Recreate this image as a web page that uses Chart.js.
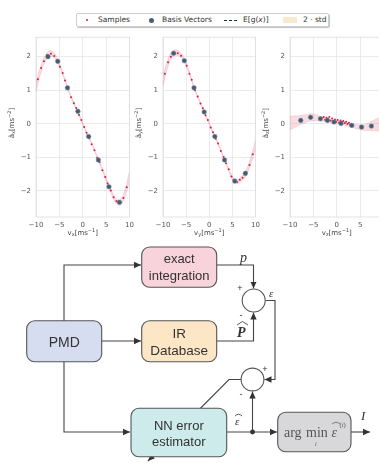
<!DOCTYPE html>
<html>
<head>
<meta charset="utf-8">
<script src="https://cdn.jsdelivr.net/npm/chart.js@4.4.0/dist/chart.umd.min.js"></script>
<style>
  html, body { margin: 0; padding: 0; background: #fff; }
  body { width: 379px; height: 463px; overflow: hidden; position: relative; font-family: "DejaVu Sans", sans-serif; }
  canvas.sub { position: absolute; top: 28px; }
  #legend { position: absolute; left: 76px; top: 13px; width: 251px; height: 12px; border: 1px solid #cfcfcf; border-radius: 2px;
            box-shadow: 1px 1px 1px rgba(0,0,0,0.25); background: #fff; font-size: 7.5px; color: #333; }
  #legend span { position: absolute; top: 1px; line-height: 10px; white-space: nowrap; }
  #legend i.m { position: absolute; display: block; }
  #diagram { position: absolute; left: 0; top: 0; }
</style>
</head>
<body>
<div id="legend">
  <i class="m" style="left:9px;top:5px;width:2px;height:2px;border-radius:1px;background:#d81b3c"></i>
  <span style="left:21px">Samples</span>
  <i class="m" style="left:72px;top:4px;width:5px;height:5px;border-radius:3px;background:#456173"></i>
  <span style="left:85px">Basis Vectors</span>
  <i class="m" style="left:147px;top:6px;width:13px;height:0;border-top:1.4px dashed #1c2b4a"></i>
  <span style="left:166px">E[g(<em>x</em>)]</span>
  <i class="m" style="left:206px;top:3px;width:14px;height:6px;background:#f7ebcf"></i>
  <span style="left:226px">2 · std</span>
</div>

<canvas class="sub" id="cx" width="138" height="212" style="left:0px"></canvas>
<canvas class="sub" id="cy" width="137" height="212" style="left:127px"></canvas>
<canvas class="sub" id="cz" width="138" height="212" style="left:254px"></canvas>

<svg id="diagram" width="379" height="463" xmlns="http://www.w3.org/2000/svg">
  <defs>
    <marker id="ah" markerUnits="userSpaceOnUse" markerWidth="8" markerHeight="8" refX="7" refY="4" orient="auto">
      <path d="M0,0.8 L7,4 L0,7.2 Z" fill="#333"/>
    </marker>
  </defs>
  <g stroke="#444" stroke-width="1.1" fill="none">
    <path d="M64 321 V265 H141" marker-end="url(#ah)"/>
    <path d="M102 341 H141" marker-end="url(#ah)"/>
    <path d="M64 362 V432 H130" marker-end="url(#ah)"/>
    <path d="M217 265 H253.5 V288.5" marker-end="url(#ah)"/>
    <path d="M217 341 H253.5 V312.5" marker-end="url(#ah)"/>
    <path d="M265.5 300.5 H275 V379.5 H264.5" marker-end="url(#ah)"/>
    <path d="M241 379.5 H229 L148 461" marker-end="url(#ah)"/>
    <path d="M227 432 H277" marker-end="url(#ah)"/>
    <path d="M252.5 432 V391.5" marker-end="url(#ah)"/>
    <path d="M351 432 H370" marker-end="url(#ah)"/>
  </g>
  <g stroke="#555" stroke-width="1.1">
    <rect x="141.7" y="247" width="75" height="40.3" rx="8" fill="#f9d3dc"/>
    <rect x="141.7" y="320.7" width="75" height="41" rx="8" fill="#fde6c6"/>
    <rect x="26.7" y="320.7" width="75" height="41" rx="8" fill="#d6ddf1"/>
    <rect x="131" y="408.3" width="95.7" height="48.4" rx="8" fill="#ccebea"/>
    <rect x="277.7" y="412.3" width="73.3" height="39.4" rx="8" fill="#d8d8db"/>
    <circle cx="253.7" cy="300.5" r="11.5" fill="#fff"/>
    <circle cx="252.5" cy="379.5" r="11.4" fill="#fff"/>
  </g>
  <circle cx="252.5" cy="432" r="2.4" fill="#333"/>
  <g font-family="Liberation Sans, Arial, sans-serif" fill="#333" text-anchor="middle" dominant-baseline="central">
    <text x="179.2" y="258.5" font-size="13">exact</text>
    <text x="179.2" y="275.5" font-size="13">integration</text>
    <text x="179.2" y="333" font-size="13.5">IR</text>
    <text x="179.2" y="350" font-size="13.5">Database</text>
    <text x="64.2" y="341.5" font-size="14">PMD</text>
    <text x="178.8" y="425" font-size="13">NN error</text>
    <text x="178.8" y="441" font-size="13">estimator</text>
    <text x="240" y="288" font-size="9">+</text>
    <text x="241" y="315" font-size="9">-</text>
    <text x="265" y="369" font-size="9">+</text>
    <text x="241" y="394" font-size="9">-</text>
  </g>
  <g font-family="Liberation Serif, DejaVu Serif, serif" fill="#333">
    <text x="240" y="262" font-size="14" font-style="italic">p</text>
    <text x="237" y="337" font-size="14" font-style="italic" font-weight="bold">P</text>
    <path d="M237 325 L242.5 321.5 L248 325" stroke="#333" stroke-width="0.8" fill="none"/>
    <text x="269" y="297" font-size="11" font-style="italic">ε</text>
    <text x="235" y="425" font-size="11" font-style="italic">ε</text>
    <path d="M235 416 Q238.5 412.5 242 416" stroke="#333" stroke-width="0.8" fill="none"/>
    <text x="361" y="420" font-size="13" font-style="italic">I</text>
    <g fill="#555">
      <text x="284" y="437" font-size="14">arg</text>
      <text x="306" y="437" font-size="14">min</text>
      <text x="315" y="446" font-size="6" font-style="italic">i</text>
      <text x="331.5" y="437" font-size="14" font-style="italic">ε</text>
      <path d="M332 424 Q336 420.5 340 424" stroke="#555" stroke-width="0.7" fill="none"/>
      <text x="339.5" y="427" font-size="6.5">(<tspan font-style="italic">i</tspan>)</text>
    </g>
  </g>
</svg>

<script>
// shared x grid for the mean curves and bands
const xs = [-10, -9, -8, -7, -6, -5, -4, -3, -2, -1, 0, 1, 2, 3, 4, 5, 6, 7, 8, 9, 10];
const xTicks = [-10, -5, 0, 5, 10];
const yTicks = [-2, -1, 0, 1, 2];

// E[g(x)]
const meanX = [1.1, 1.6, 1.95, 2.1, 2.02, 1.75, 1.38, 0.98, 0.64, 0.33, 0.0, -0.32, -0.62, -0.96, -1.3, -1.66, -2.0, -2.28, -2.35, -2.08, -1.55];
const meanY = [1.28, 1.78, 2.08, 2.12, 2.02, 1.78, 1.38, 0.97, 0.64, 0.32, 0.0, -0.32, -0.63, -0.97, -1.3, -1.62, -1.73, -1.63, -1.45, -1.1, -0.6];
const meanZ = [0.02, 0.06, 0.1, 0.14, 0.18, 0.19, 0.17, 0.13, 0.1, 0.06, 0.03, 0.01, -0.02, -0.05, -0.08, -0.1, -0.11, -0.08, -0.05, -0.02, 0.02];

// half width of the 2 std band
const bandX = [0.15, 0.11, 0.09, 0.08, 0.07, 0.05, 0.04, 0.03, 0.03, 0.03, 0.03, 0.03, 0.03, 0.03, 0.04, 0.05, 0.06, 0.07, 0.08, 0.1, 0.14];
const bandY = [0.15, 0.11, 0.09, 0.08, 0.07, 0.05, 0.04, 0.03, 0.03, 0.03, 0.03, 0.03, 0.03, 0.03, 0.04, 0.05, 0.06, 0.07, 0.08, 0.1, 0.14];
const bandZ = [0.2, 0.17, 0.14, 0.12, 0.11, 0.1, 0.08, 0.06, 0.04, 0.03, 0.03, 0.03, 0.04, 0.05, 0.06, 0.07, 0.09, 0.12, 0.16, 0.2, 0.24];

// basis vectors [x, y]
const basisX = [[-7.44, 2.0], [-5.35, 1.86], [-3.27, 1.07], [-1.04, 0.37], [1.25, -0.38], [3.33, -1.08], [5.6, -1.88], [7.85, -2.34]];
const basisY = [[-7.7, 2.1], [-5.4, 1.88], [-3.3, 1.07], [-1.1, 0.35], [1.2, -0.38], [3.3, -1.08], [5.5, -1.71], [7.8, -1.48]];
const basisZ = [[-7.7, 0.1], [-5.6, 0.19], [-3.5, 0.15], [-2.0, 0.1], [-0.6, 0.05], [0.9, 0.01], [3.2, -0.05], [5.3, -0.1], [7.4, -0.07]];

// samples [x, y]
const samplesX = [[-9.6, 1.33], [-8.9, 1.66], [-8.3, 1.86], [-7.6, 2.05], [-6.8, 2.09], [-6.1, 2.02], [-5.5, 1.9], [-4.9, 1.7], [-4.3, 1.51], [-3.8, 1.29],
  [-3.1, 1.04], [-2.5, 0.79], [-1.9, 0.61], [-1.4, 0.47], [-0.8, 0.26], [-0.3, 0.11], [0.3, -0.1], [0.8, -0.27], [1.4, -0.43], [1.9, -0.61],
  [2.5, -0.79], [3.1, -1.01], [3.6, -1.15], [4.2, -1.39], [4.8, -1.59], [5.3, -1.78], [6.0, -1.99], [6.6, -2.19], [7.2, -2.3], [8.0, -2.33], [8.7, -2.21], [9.4, -1.89]];
const samplesY = [[-9.6, 1.49], [-8.9, 1.83], [-8.3, 2.0], [-7.6, 2.11], [-6.8, 2.1], [-6.1, 2.03], [-5.5, 1.87], [-4.9, 1.73], [-4.3, 1.49], [-3.8, 1.31],
  [-3.1, 1.0], [-2.5, 0.81], [-1.9, 0.6], [-1.4, 0.46], [-0.8, 0.25], [-0.3, 0.11], [0.3, -0.11], [0.8, -0.25], [1.4, -0.45], [1.9, -0.59],
  [2.5, -0.81], [3.1, -0.99], [3.6, -1.18], [4.2, -1.36], [4.8, -1.57], [5.3, -1.67], [6.0, -1.74], [6.6, -1.67], [7.2, -1.61], [8.0, -1.44], [8.7, -1.23], [9.4, -0.91]];
const samplesZ = [[-3.2, 0.17], [-2.8, 0.2], [-2.5, 0.12], [-2.2, 0.18], [-1.9, 0.14], [-1.6, 0.2], [-1.3, 0.1], [-1.0, 0.16], [-0.7, 0.08], [-0.4, 0.13],
  [-0.1, 0.06], [0.2, 0.11], [0.5, 0.04], [0.8, 0.1], [1.1, 0.05], [1.4, 0.08], [1.7, 0.02], [2.0, 0.06], [2.3, -0.01], [2.6, 0.03], [2.9, -0.03]];

const Y_MIN = -2.78, Y_MAX = 2.58;

function pts(pairs) { return pairs.map(p => ({ x: p[0], y: p[1] })); }
function curve(vals, off, sign) { return xs.map((x, i) => ({ x: x, y: vals[i] + sign * (off ? off[i] : 0) })); }

// draws text with sub/superscripts, centred on (x, y)
function richText(ctx, parts, x, y, angle) {
  ctx.save();
  ctx.translate(x, y);
  ctx.rotate(angle);
  ctx.fillStyle = '#444';
  ctx.textBaseline = 'middle';
  let w = 0;
  parts.forEach(p => { ctx.font = (p[1] ? '5px' : '7px') + ' "DejaVu Sans"'; w += ctx.measureText(p[0]).width; });
  let cx = -w / 2;
  parts.forEach(p => {
    ctx.font = (p[1] ? '5px' : '7px') + ' "DejaVu Sans"';
    const dy = p[1] === 'sub' ? 2 : (p[1] === 'sup' ? -2.5 : 0);
    ctx.fillText(p[0], cx, dy);
    cx += ctx.measureText(p[0]).width;
  });
  ctx.restore();
}

const framePlugin = {
  id: 'frame',
  beforeDatasetsDraw(chart) {
    const a = chart.chartArea, ctx = chart.ctx;
    ctx.save();
    ctx.strokeStyle = '#dcdcdc';
    ctx.lineWidth = 0.8;
    ctx.strokeRect(a.left, a.top, a.right - a.left, a.bottom - a.top);
    ctx.restore();
  },
  afterDraw(chart, args, opts) {
    const a = chart.chartArea, ctx = chart.ctx;
    richText(ctx, opts.xTitle, (a.left + a.right) / 2, a.bottom + 16, 0);
    richText(ctx, opts.yTitle, a.left - 24, (a.top + a.bottom) / 2 - 4, -Math.PI / 2);
  }
};

function makePanel(id, mean, band, basis, samples, sub) {
  const lineDefaults = { showLine: true, pointRadius: 0, tension: 0.4 };
  new Chart(document.getElementById(id), {
    type: 'scatter',
    data: {
      datasets: [
        Object.assign({ label: 'E[g(x)]', data: curve(mean), borderColor: '#1c2b4a', borderWidth: 1.6, borderDash: [3.5, 2], order: 0 }, lineDefaults),
        { label: 'Basis Vectors', data: pts(basis), pointRadius: 2.3, backgroundColor: '#435d70', borderColor: '#7890a0', borderWidth: 0.5, order: 1 },
        { label: 'Samples', data: pts(samples), pointRadius: 1, backgroundColor: '#d81b3c', borderWidth: 0, order: 2 },
        Object.assign({ label: 'upper', data: curve(mean, band, 1), borderColor: 'rgba(214,90,115,0.3)', borderWidth: 0.6, fill: '+1', backgroundColor: 'rgba(232,130,150,0.28)', order: 3 }, lineDefaults),
        Object.assign({ label: 'lower', data: curve(mean, band, -1), borderColor: 'rgba(214,90,115,0.3)', borderWidth: 0.6, fill: false, order: 4 }, lineDefaults)
      ]
    },
    options: {
      responsive: false,
      animation: false,
      devicePixelRatio: 1,
      layout: { padding: { top: 4, right: 6, bottom: 0, left: 0 } },
      plugins: {
        legend: { display: false },
        tooltip: { enabled: false },
        frame: {
          xTitle: [['v'], [sub, 'sub'], ['[ms'], ['−1', 'sup'], [']']],
          yTitle: [['â'], [sub, 'sub'], ['[ms'], ['−2', 'sup'], [']']]
        }
      },
      scales: {
        x: {
          type: 'linear', min: -10, max: 10,
          afterBuildTicks: s => { s.ticks = xTicks.map(v => ({ value: v })); },
          afterFit: s => { s.height = 23; },
          grid: { color: '#e6e6e6', lineWidth: 0.8, drawTicks: false },
          border: { display: false },
          ticks: { font: { size: 7, family: 'DejaVu Sans' }, color: '#555', padding: 4, maxRotation: 0,
                   callback: v => String(v).replace('-', '−') }
        },
        y: {
          min: Y_MIN, max: Y_MAX,
          afterBuildTicks: s => { s.ticks = yTicks.map(v => ({ value: v })); },
          afterFit: s => { s.width = 36; },
          grid: { color: '#e6e6e6', lineWidth: 0.8, drawTicks: false },
          border: { display: false },
          ticks: { font: { size: 7, family: 'DejaVu Sans' }, color: '#555', padding: 5,
                   callback: v => String(v).replace('-', '−') }
        }
      }
    },
    plugins: [framePlugin]
  });
}

makePanel('cx', meanX, bandX, basisX, samplesX, 'x');
makePanel('cy', meanY, bandY, basisY, samplesY, 'y');
makePanel('cz', meanZ, bandZ, basisZ, samplesZ, 'z');
</script>
</body>
</html>
